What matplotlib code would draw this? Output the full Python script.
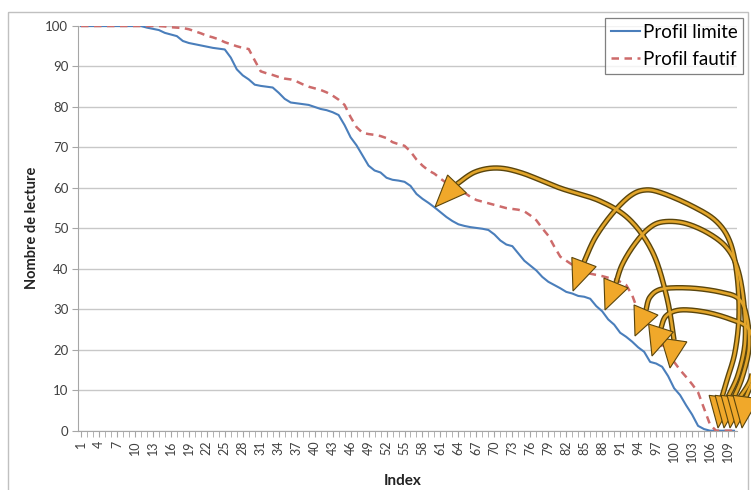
import numpy as np
import matplotlib
matplotlib.use('Agg')
import matplotlib.pyplot as plt
from matplotlib.patches import Polygon, Rectangle
from matplotlib.lines import Line2D

plt.rcParams['font.family'] = ['Lato', 'DejaVu Sans']

# donnees (index 1..110)
index = list(range(1, 111))
profil_limite = [100] * 11 + [
    99.6, 99.3, 99.0, 98.3, 97.9, 97.5, 96.3, 95.8, 95.5,            # 12-20
    95.2, 94.9, 94.6, 94.4, 94.2, 92.2, 89.3, 87.8, 86.8, 85.5,      # 21-30
    85.2, 85.0, 84.8, 83.5, 82.0, 81.1, 80.9, 80.7, 80.5, 80.0,      # 31-40
    79.5, 79.2, 78.7, 78.0, 75.5, 72.5, 70.5, 68.0, 65.5, 64.3,      # 41-50
    63.8, 62.5, 62.0, 61.8, 61.5, 60.5, 58.5, 57.3, 56.3, 55.2,      # 51-60
    54.0, 52.8, 51.8, 51.0, 50.6, 50.3, 50.1, 49.9, 49.6, 48.5,      # 61-70
    47.0, 46.0, 45.6, 43.8, 42.0, 40.8, 39.6, 38.0, 36.8, 36.0,      # 71-80
    35.2, 34.3, 33.9, 33.3, 33.1, 32.6, 30.8, 29.5, 27.5, 26.2,      # 81-90
    24.2, 23.2, 22.0, 20.6, 19.5, 17.0, 16.6, 15.8, 13.5, 10.5,      # 91-100
    8.8, 6.3, 4.0, 1.2, 0.4, 0, 0, 0, 0, 0]                          # 101-110
profil_fautif = [100] * 14 + [
    99.9, 99.7, 99.6, 99.5, 99.2, 98.7,                              # 15-20
    98.2, 97.6, 97.2, 96.7, 96.0, 95.5, 95.0, 94.6, 94.3, 91.5,      # 21-30
    88.8, 88.3, 87.9, 87.4, 87.0, 86.8, 86.3, 85.6, 85.0, 84.6,      # 31-40
    84.2, 83.6, 82.8, 81.8, 80.5, 77.5, 75.0, 73.6, 73.3, 73.1,      # 41-50
    72.8, 72.3, 71.3, 70.8, 70.4, 69.0, 67.0, 65.5, 64.3, 63.5,      # 51-60
    62.3, 61.2, 60.3, 59.5, 58.8, 57.8, 57.0, 56.6, 56.2, 55.8,      # 61-70
    55.4, 55.0, 54.8, 54.6, 54.2, 53.2, 52.0, 50.0, 48.2, 45.5,      # 71-80
    43.0, 42.0, 41.0, 40.0, 39.2, 38.8, 38.5, 38.2, 37.8, 37.4,      # 81-90
    36.8, 36.0, 33.5, 29.5, 27.0, 25.0, 23.0, 21.0, 19.0, 17.0,      # 91-100
    15.0, 13.3, 11.5, 9.5, 5.5, 1.5, 0, 0, 0, 0]                     # 101-110
yticks = list(range(0, 101, 10))
xtick_labels = list(range(1, 111, 3))

# fleches dessinees a la main (coordonnees en pixels de l'image)
fleches = [
    # (chemin, [(pointe, base), ...])
    ([(457, 184), (475, 172), (497, 168), (522, 173), (560, 188), (600, 201),
      (630, 220), (653, 253), (667, 298), (674, 340)],
     [((435, 207), (457, 184)), ((670, 368), (674, 340))]),
    ([(584, 262), (595, 238), (612, 214), (630, 196), (645, 190), (662, 193),
      (692, 206), (716, 221), (730, 242), (737, 275), (739, 315), (735, 352),
      (727, 380), (722, 397)],
     [((573, 291), (584, 262)), ((718, 428), (722, 397))]),
    ([(616, 283), (622, 265), (634, 245), (648, 229), (662, 222), (684, 223),
      (708, 233), (727, 248), (738, 270), (744, 305), (745, 343), (738, 375),
      (728, 397)],
     [((605, 310), (616, 283)), ((724, 428), (728, 397))]),
    ([(646, 310), (650, 297), (662, 289), (690, 288), (720, 292), (739, 299),
      (747, 318), (749, 348), (742, 378), (734, 397)],
     [((635, 336), (646, 310)), ((730, 428), (734, 397))]),
    ([(661, 328), (666, 316), (680, 310), (705, 312), (730, 319), (748, 328),
      (754, 348), (751, 378), (740, 397)],
     [((652, 356), (661, 328)), ((736, 428), (740, 397))]),
    ([(770, 290), (762, 330), (756, 370), (746, 397)],
     [((742, 428), (746, 397))]),
]


def lisse(points, n=20):
    # Catmull-Rom pour les fleches courbes
    p = np.array(points, dtype=float)
    p = np.vstack([p[0], p, p[-1]])
    out = []
    for k in range(1, len(p) - 2):
        p0, p1, p2, p3 = p[k - 1], p[k], p[k + 1], p[k + 2]
        for t in np.linspace(0, 1, n, endpoint=False):
            t2, t3 = t * t, t * t * t
            out.append(0.5 * ((2 * p1) + (-p0 + p2) * t +
                              (2 * p0 - 5 * p1 + 4 * p2 - p3) * t2 +
                              (-p0 + 3 * p1 - 3 * p2 + p3) * t3))
    out.append(p[-2])
    return np.array(out)


fig = plt.figure(figsize=(7.51, 4.90), dpi=100)
ax = fig.add_axes([78 / 751, 59.3 / 490, 659 / 751, 404.7 / 490])

ax.plot(index, profil_limite, color='#4a7ebb', lw=1.5, label='Profil limite', zorder=3)
ax.plot(index, profil_fautif, color='#cd6b6b', lw=1.8, dashes=(3, 2.2),
        label='Profil fautif', zorder=3)

ax.set_xlim(0.5, 110.5)
ax.set_ylim(0, 100)
ax.set_yticks(yticks)
ax.set_xticks(xtick_labels)
ax.set_xticklabels([str(v) for v in xtick_labels], rotation=90, fontsize=9, color='#404040')
ax.set_xticks(index, minor=True)
ax.tick_params(axis='y', labelsize=9.5, length=4, color='#a6a6a6', labelcolor='#404040', pad=3)
ax.tick_params(axis='x', which='both', length=4, color='#a6a6a6', pad=3)
ax.grid(axis='y', color='#c8c8c8', lw=1.0)
ax.set_axisbelow(True)
for s in ['top', 'right']:
    ax.spines[s].set_visible(False)
for s in ['left', 'bottom']:
    ax.spines[s].set_color('#a6a6a6')

fig.text(32 / 751, 1 - 228 / 490, 'Nombre de lecture', rotation=90, fontsize=10.5,
         fontweight='bold', ha='center', va='center', color='#222222')
fig.text(403 / 751, 1 - 481 / 490, 'Index', fontsize=11, fontweight='bold',
         ha='center', va='center', color='#222222')

leg = fig.legend(handles=[Line2D([], [], color='#4a7ebb', lw=1.5),
                          Line2D([], [], color='#cd6b6b', lw=1.8, dashes=(3, 2.2))],
                 labels=['Profil limite', 'Profil fautif'],
                 loc='upper right', bbox_to_anchor=(743 / 751, 1 - 18 / 490),
                 fontsize=13.5, frameon=True, fancybox=False, handlelength=1.55,
                 handletextpad=0.15, labelspacing=0.55, borderpad=0.3,
                 borderaxespad=0)
leg.get_frame().set_edgecolor('#606060')
leg.get_frame().set_linewidth(0.9)
leg.set_zorder(20)

# calque pour le cadre et les fleches
over = fig.add_axes([0, 0, 1, 1], zorder=10)
over.set_xlim(0, 751)
over.set_ylim(490, 0)
over.axis('off')
over.patch.set_alpha(0)
over.add_patch(Rectangle((8, 12), 740, 490, fill=False, edgecolor='#c0c0c0', lw=1.0))

brun = '#5a450c'
or_ = '#e2a52a'
for chemin, tetes in fleches:
    c = lisse(chemin)
    over.plot(c[:, 0], c[:, 1], color=brun, lw=3.9, solid_capstyle='butt', zorder=11)
    over.plot(c[:, 0], c[:, 1], color=or_, lw=1.9, solid_capstyle='butt', zorder=12)
    for pointe, base in tetes:
        pt = np.array(pointe, float)
        b = np.array(base, float)
        d = pt - b
        perp = np.array([-d[1], d[0]]) / np.hypot(*d)
        tri = [pt, b + perp * 13, b - perp * 13]
        over.add_patch(Polygon(tri, closed=True, facecolor='#f0a82a', edgecolor=brun,
                               lw=0.8, zorder=13))

fig.savefig('out.png', dpi=100)
